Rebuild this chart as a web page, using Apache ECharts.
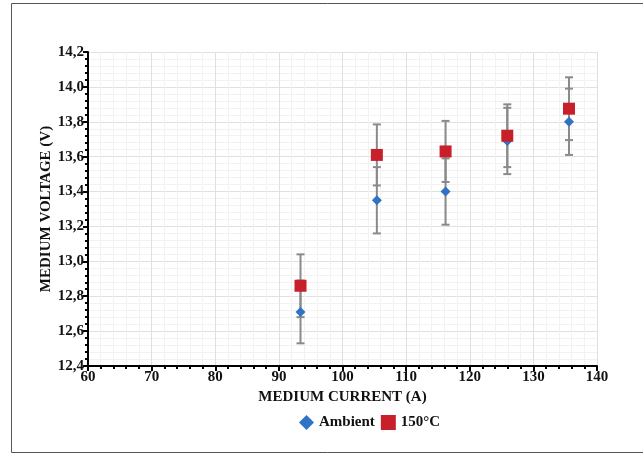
<!DOCTYPE html>
<html>
<head>
<meta charset="utf-8">
<script src="https://cdn.jsdelivr.net/npm/echarts@6/dist/echarts.min.js"></script>
<style>html,body{margin:0;padding:0;background:#fff;}#c{width:643px;height:454px;}</style>
</head>
<body>
<div id="c"></div>
<script>
var currents = [93.4, 105.4, 116.2, 125.9, 135.6];
var ambientV = [12.71, 13.35, 13.40, 13.69, 13.80];
var ambientErr = [0.18, 0.19, 0.19, 0.19, 0.19];
var hotV = [12.86, 13.61, 13.63, 13.72, 13.875];
var hotErr = [0.18, 0.175, 0.175, 0.18, 0.18];
var seriesNames = ['Ambient', '150°C'];

var chart = echarts.init(document.getElementById('c'));
var font = 'Liberation Serif';

function pts(v) { return currents.map(function (x, i) { return [x, v[i]]; }); }
function errs(v, e) { return currents.map(function (x, i) { return [x, v[i] - e[i], v[i] + e[i]]; }); }

function renderErr(params, api) {
  var x = api.value(0);
  var lo = api.coord([x, api.value(1)]);
  var hi = api.coord([x, api.value(2)]);
  var w = 4;
  var st = { stroke: '#8a8a8a', lineWidth: 2 };
  return {
    type: 'group',
    children: [
      { type: 'line', shape: { x1: lo[0], y1: lo[1], x2: hi[0], y2: hi[1] }, style: st },
      { type: 'line', shape: { x1: lo[0] - w, y1: lo[1], x2: lo[0] + w, y2: lo[1] }, style: st },
      { type: 'line', shape: { x1: hi[0] - w, y1: hi[1], x2: hi[0] + w, y2: hi[1] }, style: st }
    ]
  };
}

var labelStyle = { color: '#111', fontFamily: font, fontWeight: 'bold', fontSize: 15 };

chart.setOption({
  animation: false,
  graphic: [{
    type: 'rect', shape: { x: 11.5, y: 3.5, width: 660, height: 449 },
    style: { fill: 'none', stroke: '#555', lineWidth: 1 }, z: -10
  }],
  grid: { left: 88, right: 46, top: 52, bottom: 88 },
  legend: {
    bottom: 19, left: 294, itemGap: 6, itemWidth: 15, itemHeight: 15,
    textStyle: { color: '#111', fontFamily: font, fontWeight: 'bold', fontSize: 15 },
    data: [{ name: seriesNames[0], icon: 'diamond' }, { name: seriesNames[1], icon: 'rect' }]
  },
  xAxis: {
    type: 'value', min: 60, max: 140, interval: 10,
    name: 'MEDIUM CURRENT (A)', nameLocation: 'middle', nameGap: 24,
    nameTextStyle: { color: '#111', fontFamily: font, fontWeight: 'bold', fontSize: 15 },
    axisLine: { show: true, onZero: false, lineStyle: { color: '#000', width: 2 } },
    axisTick: { show: true, length: 5, lineStyle: { color: '#000', width: 2 } },
    minorTick: { show: true, splitNumber: 5, length: 3, lineStyle: { color: '#000', width: 2 } },
    axisLabel: Object.assign({ margin: 4 }, labelStyle),
    splitLine: { show: true, lineStyle: { color: '#e0e0e0', width: 1 } },
    minorSplitLine: { show: true, lineStyle: { color: '#f2f2f2', width: 1 } }
  },
  yAxis: {
    type: 'value', min: 12.4, max: 14.2, interval: 0.2,
    name: 'MEDIUM VOLTAGE (V)', nameLocation: 'middle', nameGap: 34, nameRotate: 90,
    nameMoveOverlap: false,
    nameTextStyle: { color: '#111', fontFamily: font, fontWeight: 'bold', fontSize: 15 },
    axisLine: { show: true, onZero: false, lineStyle: { color: '#000', width: 2 } },
    axisTick: { show: true, length: 5, lineStyle: { color: '#000', width: 2 } },
    minorTick: { show: true, splitNumber: 5, length: 3, lineStyle: { color: '#000', width: 2 } },
    axisLabel: Object.assign({ margin: 4, formatter: function (v) { return v.toFixed(1).replace('.', ','); } }, labelStyle),
    splitLine: { show: true, lineStyle: { color: '#e0e0e0', width: 1 } },
    minorSplitLine: { show: true, lineStyle: { color: '#f2f2f2', width: 1 } }
  },
  series: [
    { type: 'custom', name: 'errA', renderItem: renderErr, data: errs(ambientV, ambientErr), z: 1, silent: true },
    { type: 'custom', name: 'errH', renderItem: renderErr, data: errs(hotV, hotErr), z: 1, silent: true },
    { type: 'scatter', name: seriesNames[0], symbol: 'diamond', symbolSize: 10, data: pts(ambientV),
      itemStyle: { color: '#2f73c4', opacity: 1 }, z: 3 },
    { type: 'scatter', name: seriesNames[1], symbol: 'rect', symbolSize: 12, data: pts(hotV),
      itemStyle: { color: '#c8202a', opacity: 1 }, z: 4 }
  ]
});
</script>
</body>
</html>
